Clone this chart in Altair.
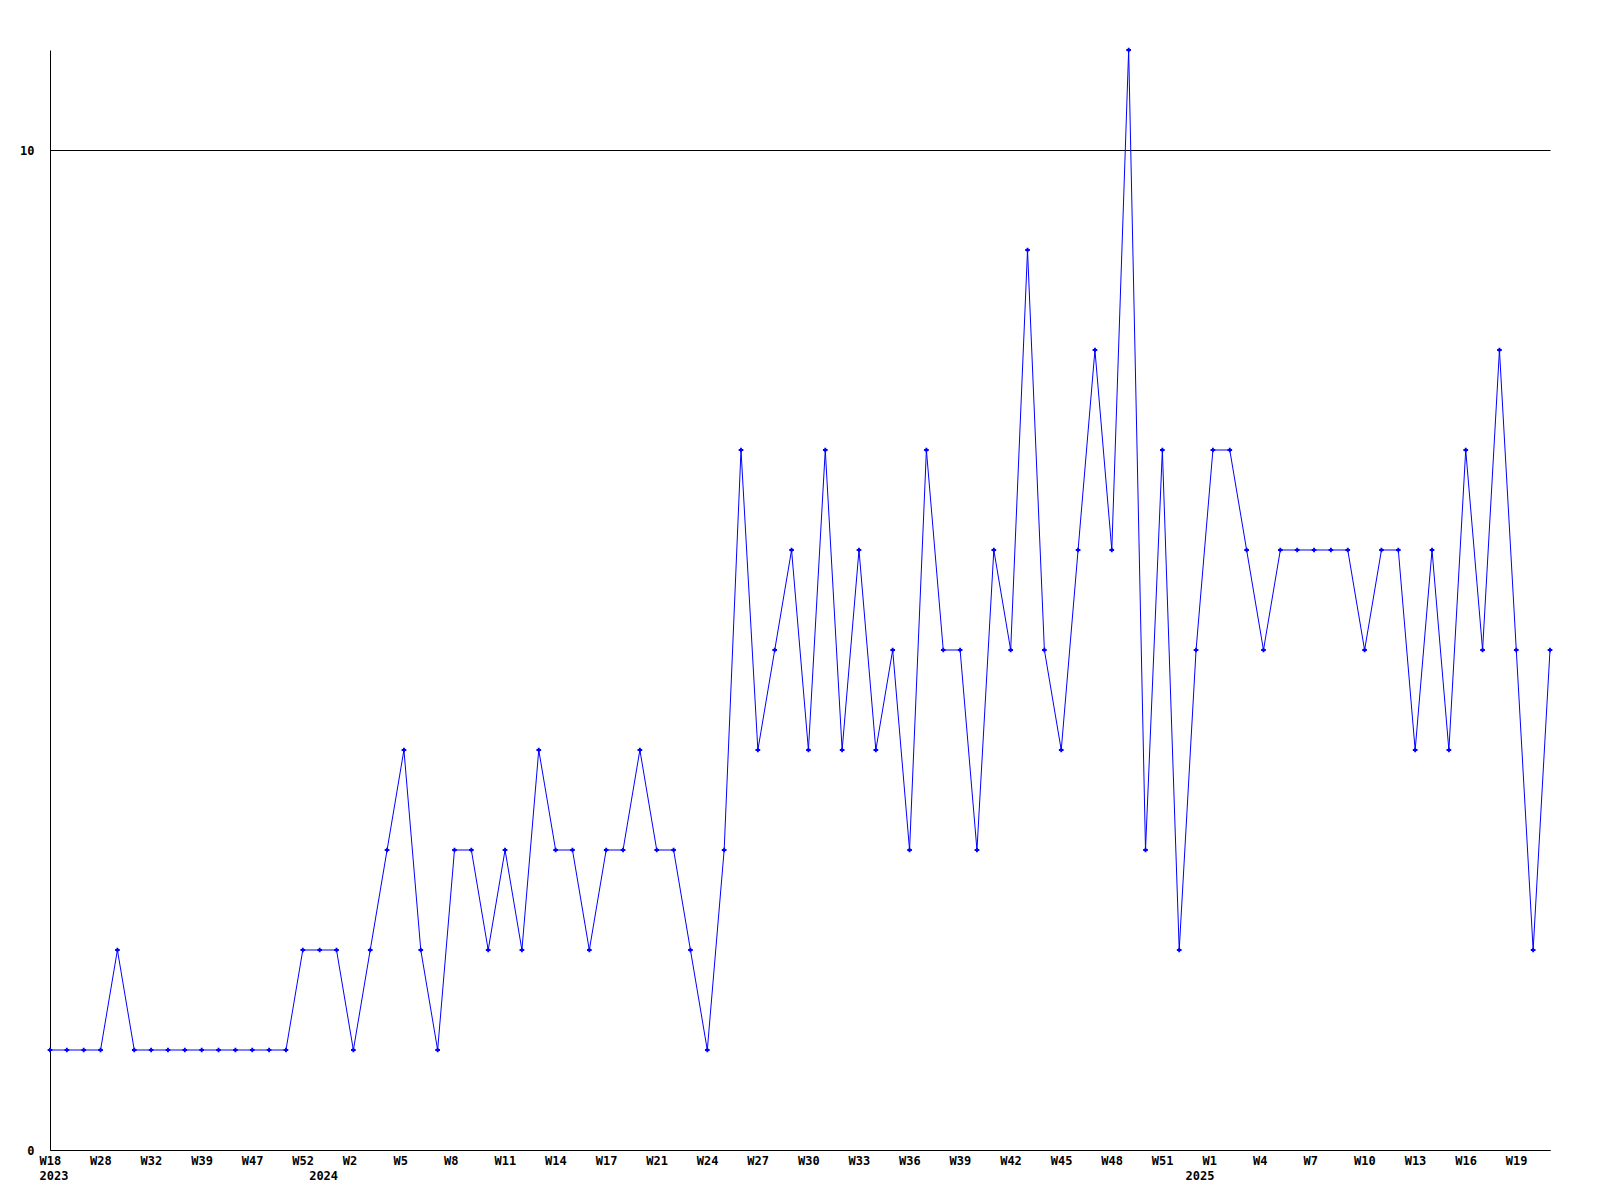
import altair as alt
import pandas as pd

values = [
    1, 1, 1, 1, 2, 1, 1, 1, 1, 1,
    1, 1, 1, 1, 1, 2, 2, 2, 1, 2,
    3, 4, 2, 1, 3, 3, 2, 3, 2, 4,
    3, 3, 2, 3, 3, 4, 3, 3, 2, 1,
    3, 7, 4, 5, 6, 4, 7, 4, 6, 4,
    5, 3, 7, 5, 5, 3, 6, 5, 9, 5,
    4, 6, 8, 6, 11, 3, 7, 2, 5, 7,
    7, 6, 5, 6, 6, 6, 6, 6, 5, 6,
    6, 4, 6, 4, 7, 5, 8, 5, 2, 5,
]
# week tick labels, one on every third point
week_labels = ["W18", "W28", "W32", "W39", "W47", "W52", "W2", "W5", "W8", "W11",
               "W14", "W17", "W21", "W24", "W27", "W30", "W33", "W36", "W39", "W42",
               "W45", "W48", "W51", "W1", "W4", "W7", "W10", "W13", "W16", "W19"]
# year labels and the point where each year starts
years = ["2023", "2024", "2025"]
year_points = [0, 16, 68]

n = len(values)
df = pd.DataFrame({"idx": list(range(n)), "value": values})

line1 = [""] * n
line2 = [""] * n
for i, w in enumerate(week_labels):
    line1[i * 3] = w
for yv, p in zip(years, year_points):
    line2[p] = yv
label_arr = "[" + ",".join("['%s','%s']" % (a, b) for a, b in zip(line1, line2)) + "]"
tick_vals = sorted(set([i * 3 for i in range(len(week_labels))] + year_points))

FONT = "DejaVu Sans Mono"

x = alt.X("idx:Q", scale=alt.Scale(domain=[0, n - 1], nice=False, zero=False),
          axis=alt.Axis(values=tick_vals, labelExpr=label_arr + "[round(datum.value)]",
                        title=None, grid=False, ticks=False, domainColor="black",
                        labelFont=FONT, labelFontWeight="bold", labelFontSize=12,
                        labelColor="black", labelPadding=5, labelLineHeight=15,
                        labelBaseline="top", labelAlign="left", labelOffset=-11,
                        labelOverlap=False, labelFlush=False))
y = alt.Y("value:Q", scale=alt.Scale(domain=[0, 11], nice=False),
          axis=alt.Axis(values=[0, 10], title=None, grid=True, gridColor="black",
                        gridOpacity=1, ticks=False, domainColor="black",
                        labelFont=FONT, labelFontWeight="bold", labelFontSize=12,
                        labelColor="black", labelPadding=16))

line = alt.Chart(df).mark_line(color="#0000ff", strokeWidth=1).encode(x=x, y=y)
pts = alt.Chart(df).mark_point(shape="cross", filled=True, size=22, color="#0000ff",
                               opacity=1).encode(x=x, y=y)

chart = (line + pts).properties(
    width=1500, height=1100,
    autosize=alt.AutoSizeParams(type="none"),
    padding={"left": 42, "top": 42, "right": 42, "bottom": 42},
    background="white",
).configure_view(stroke=None)

chart.save("out.html", embed_options={"renderer": "svg", "actions": False})
